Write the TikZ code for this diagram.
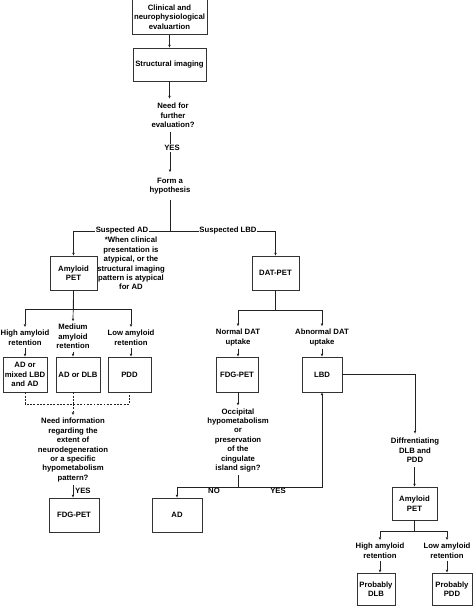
\documentclass[tikz,border=0pt]{standalone}
\usepackage{fontspec}
\setmainfont{Liberation Sans}
\usepackage{tikz}
\usetikzlibrary{arrows.meta,positioning,calc}
\definecolor{ink}{RGB}{34,34,34}
\definecolor{frame}{RGB}{51,51,51}
\newcommand{\flowfont}{\fontsize{8.8}{10.8}\selectfont\bfseries}
\tikzset{
  box/.style={draw=frame, line width=0.9pt, fill=white, inner sep=1pt,
              font=\flowfont, align=center, text=black},
  lbl/.style={inner sep=3pt, font=\flowfont, align=center, text=black},
  tag/.style={inner sep=1pt, font=\flowfont, text=black},
  flow/.style={-{Triangle[length=3.2pt,width=2.6pt]}, ink, line width=0.8pt},
  link/.style={ink, line width=0.8pt},
  dashlink/.style={ink, line width=0.8pt, dash pattern=on 2.2pt off 1.6pt},
}

\begin{document}
\begin{tikzpicture}[x=0.04cm,y=-0.04cm]
    \useasboundingbox (0,0) rectangle (474,606);
    % main trunk
    \node[box, minimum width=3.0cm, minimum height=1.40cm] (clin) at (169.5,17) {Clinical and\\neurophysiological\\evaluartion};
    \node[box, minimum width=2.92cm, minimum height=1.32cm] (struct) at (169.5,64.5) {Structural imaging};
    \node[lbl, inner sep=5pt] (need) at (173,115.5) {Need for\\further\\evaluation?};
    \node[tag] (yes1) at (172,148) {YES};
    \node[lbl, inner sep=6pt] (hyp) at (170,186) {Form a\\hypothesis};
    \coordinate (split) at (170,231);
    % suspected AD branch
    \node[box, minimum width=1.88cm, minimum height=1.36cm] (amyL) at (73.5,273) {Amyloid\\PET};
    \node[lbl] (note) at (131,263.5) {*When clinical\\presentation is\\atypical, or the\\structural imaging\\pattern is atypical\\for AD};
    \node[lbl] (high) at (25,337.5) {High amyloid\\retention};
    \node[lbl] (med) at (73,336.5) {Medium\\amyloid\\retention};
    \node[lbl] (low) at (131,337.5) {Low amyloid\\retention};
    \node[box, minimum width=1.76cm, minimum height=1.40cm] (mixed) at (25,374.5) {AD or\\mixed LBD\\and AD};
    \node[box, minimum width=1.76cm, minimum height=1.40cm] (addlb) at (78,374.5) {AD or DLB};
    \node[box, minimum width=1.72cm, minimum height=1.40cm] (pddL) at (129.5,374.5) {PDD};
    \coordinate (dsplit) at (73,404);
    \node[lbl] (info) at (73,450) {Need information\\regarding the\\extent of\\neurodegeneration\\or a specific\\hypometabolism\\pattern?};
    \node[box, minimum width=2.0cm, minimum height=1.36cm] (fdgL) at (74,515) {FDG-PET};
    % suspected LBD branch
    \node[box, minimum width=1.88cm, minimum height=1.36cm] (dat) at (275.5,273) {DAT-PET};
    \node[lbl] (normal) at (238,337.5) {Normal DAT\\uptake};
    \node[lbl] (abnormal) at (322,337.5) {Abnormal DAT\\uptake};
    \node[box, minimum width=1.68cm, minimum height=1.40cm] (fdgM) at (237,374.5) {FDG-PET};
    \node[box, minimum width=1.60cm, minimum height=1.40cm] (lbd) at (322,374.5) {LBD};
    \node[lbl] (occ) at (238,440.5) {Occipital\\hypometabolism\\or\\preservation\\of the\\cingulate\\island sign?};
    \coordinate (osplit) at (238,487);
    \node[box, minimum width=2.0cm, minimum height=1.36cm] (ad) at (177,515) {AD};
    \node[lbl, inner sep=5pt] (diff) at (415,450.5) {Diffrentiating\\DLB and\\PDD};
    \node[box, minimum width=1.80cm, minimum height=1.32cm] (amyR) at (414.5,503.5) {Amyloid\\PET};
    \node[lbl] (highR) at (380,550.5) {High amyloid\\retention};
    \node[lbl] (lowR) at (447,550.5) {Low amyloid\\retention};
    \node[box, minimum width=1.52cm, minimum height=1.28cm] (dlb) at (376,589) {Probably\\DLB};
    \node[box, minimum width=1.60cm, minimum height=1.28cm] (pddR) at (452,589) {Probably\\PDD};
    % connectors
    \draw[flow] (clin) -- (struct);
    \draw[flow] (struct.south) -- (struct.south |- need.north);
    \draw[link] (need.south -| split) -- (yes1.north -| split);
    \draw[flow] (yes1.south -| split) -- (hyp.north -| split);
    \draw[link] (hyp) -- (split);
    \draw[flow] (split) -| (amyL);
    \draw[flow] (split) -| (dat);
    \node[tag, fill=white] (susAD) at (122,230) {Suspected AD};
    \node[tag, fill=white] (susLBD) at (228,230) {Suspected LBD};
    \draw[flow] (amyL.south) -- ++(0,19) -| (high.north);
    \draw[flow] (amyL.south) -- ++(0,19) -| (low.north);
    \draw[flow] (amyL.south) -- (med.north);
    \draw[flow] (high) -- (mixed);
    \draw[flow] (med.south) -- (med.south |- addlb.north);
    \draw[flow] (low) -- (low |- pddL.north);
    \draw[dashlink] (mixed.south) |- (dsplit) -| (pddL.south);
    \draw[dashlink] (addlb.south -| dsplit) -- (dsplit);
    \draw[flow, dash pattern=on 2.2pt off 1.6pt] (dsplit) -- (info.north);
    \draw[flow] (info.south) -- (info.south |- fdgL.north) node[tag, midway, anchor=west, xshift=1pt] (yes2) {YES};
    \draw[flow] (dat.south) -- ++(0,20) -| (normal.north);
    \draw[flow] (dat.south) -- ++(0,20) -| (abnormal.north);
    \draw[flow] (normal.south) -- (normal.south |- fdgM.north);
    \draw[flow] (abnormal) -- (lbd);
    \draw[flow] (fdgM.south -| occ) -- (occ.north);
    \draw[link] (occ.south) -- (osplit);
    \draw[flow] (osplit) -| (ad.north);
    \draw[flow] (osplit) -| (lbd.south);
    \node[tag] (no) at (214,491) {NO};
    \node[tag] (yes3) at (278,491) {YES};
    \draw[flow] (lbd.east) -| (diff.north);
    \draw[flow] (diff.south -| amyR) -- (amyR.north);
    \draw[flow] (amyR.south) -- ++(0,11) -| (highR.north);
    \draw[flow] (amyR.south) -- ++(0,11) -| (lowR.north);
    \draw[flow] (highR.south) -- (highR.south |- dlb.north);
    \draw[flow] (lowR.south) -- (lowR.south |- pddR.north);
\end{tikzpicture}
\end{document}
